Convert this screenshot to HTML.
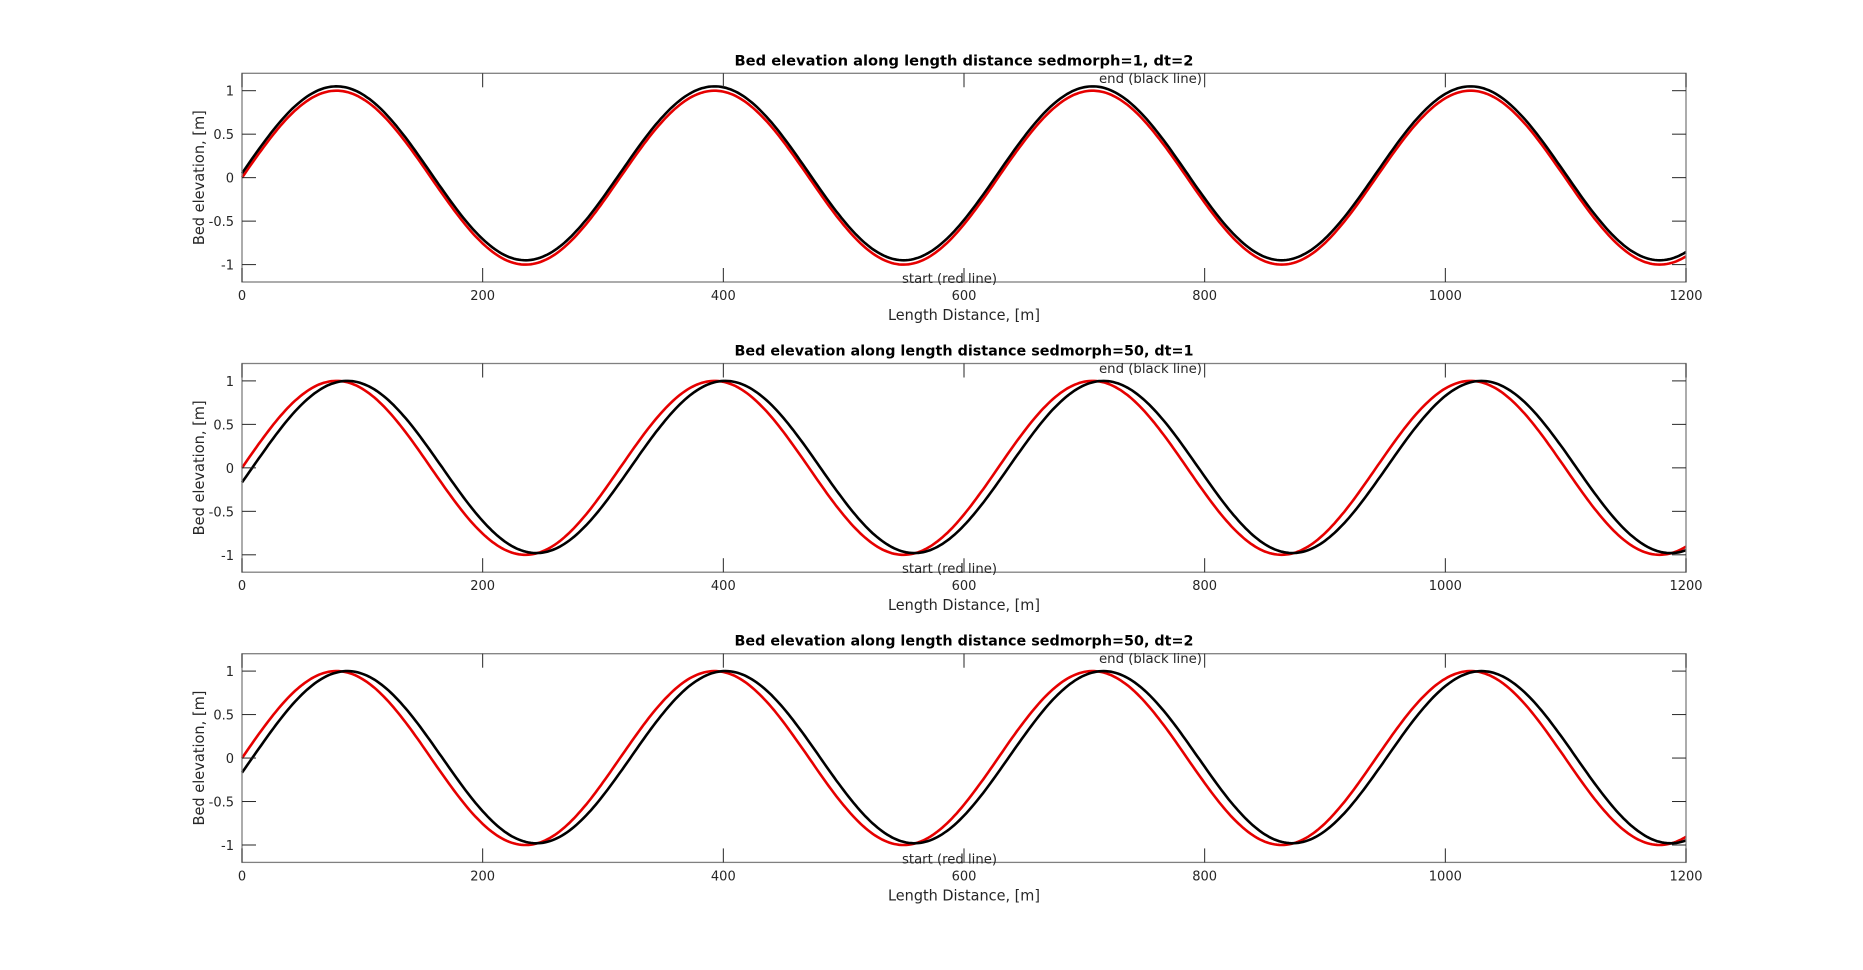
<!DOCTYPE html>
<html><head><meta charset="utf-8"><style>
html,body{margin:0;padding:0;background:#fff;}
svg{display:block;}
text{font-family:"DejaVu Sans","Liberation Sans",sans-serif;fill:#262626;}
</style></head><body>
<svg id="s" width="1863" height="970" xmlns="http://www.w3.org/2000/svg"></svg>
<script>
const s=document.getElementById('s');
const L=242,R=1686,H=208.7;
const tops=[73.3,363.5,653.7];
const titles=["Bed elevation along length distance sedmorph=1, dt=2","Bed elevation along length distance sedmorph=50, dt=1","Bed elevation along length distance sedmorph=50, dt=2"];
let h='';
function X(v){return L+(v/1200)*(R-L);}
tops.forEach((T,i)=>{
  const B=T+H;
  const Y=v=>T+(1.2-v)/2.4*H;
  let red='',blk='';
  for(let x=0;x<=1200;x+=2){
    const r=Math.sin(x/50);
    const b=i==0?Math.sin(x/50)+0.05:0.99*Math.sin((x-9)/50)+0.01;
    red+=(x?'L':'M')+X(x).toFixed(1)+' '+Y(r).toFixed(1);
    blk+=(x?'L':'M')+X(x).toFixed(1)+' '+Y(b).toFixed(1);
  }
  h+=`<path d="${red}" fill="none" stroke="#e60000" stroke-width="2.6"/>`;
  h+=`<path d="${blk}" fill="none" stroke="#000" stroke-width="2.6"/>`;
  h+=`<rect x="${L}" y="${T}" width="${R-L}" height="${H}" fill="none" stroke="#808080" stroke-width="1.3"/>`;
  for(let v=0;v<=1200;v+=200){
    const x=X(v);
    h+=`<line x1="${x}" y1="${B}" x2="${x}" y2="${B-14}" stroke="#262626" stroke-width="1"/>`;
    h+=`<line x1="${x}" y1="${T}" x2="${x}" y2="${T+14}" stroke="#262626" stroke-width="1"/>`;
    h+=`<text x="${x}" y="${B+18}" font-size="13" text-anchor="middle">${v}</text>`;
  }
  [1,0.5,0,-0.5,-1].forEach(v=>{
    const y=Y(v);
    h+=`<line x1="${L}" y1="${y}" x2="${L+14}" y2="${y}" stroke="#262626" stroke-width="1"/>`;
    h+=`<line x1="${R}" y1="${y}" x2="${R-14}" y2="${y}" stroke="#262626" stroke-width="1"/>`;
    h+=`<text x="${L-8}" y="${y+5}" font-size="13" text-anchor="end">${v}</text>`;
  });
  h+=`<text x="964" y="${T-8}" font-size="14" font-weight="bold" text-anchor="middle" textLength="459" lengthAdjust="spacingAndGlyphs" style="fill:#000">${titles[i]}</text>`;
  h+=`<text x="1099" y="${T+9.5}" font-size="13" textLength="103" lengthAdjust="spacingAndGlyphs">end (black line)</text>`;
  h+=`<text x="902" y="${B+1}" font-size="13" textLength="95" lengthAdjust="spacingAndGlyphs">start (red line)</text>`;
  h+=`<text x="964" y="${B+38}" font-size="15" text-anchor="middle" textLength="152" lengthAdjust="spacingAndGlyphs">Length Distance, [m]</text>`;
  const cy=T+H/2;
  h+=`<text x="0" y="0" font-size="15" text-anchor="middle" textLength="135" lengthAdjust="spacingAndGlyphs" transform="translate(204,${cy}) rotate(-90)">Bed elevation, [m]</text>`;
});
s.innerHTML=h;
</script>
</body></html>
